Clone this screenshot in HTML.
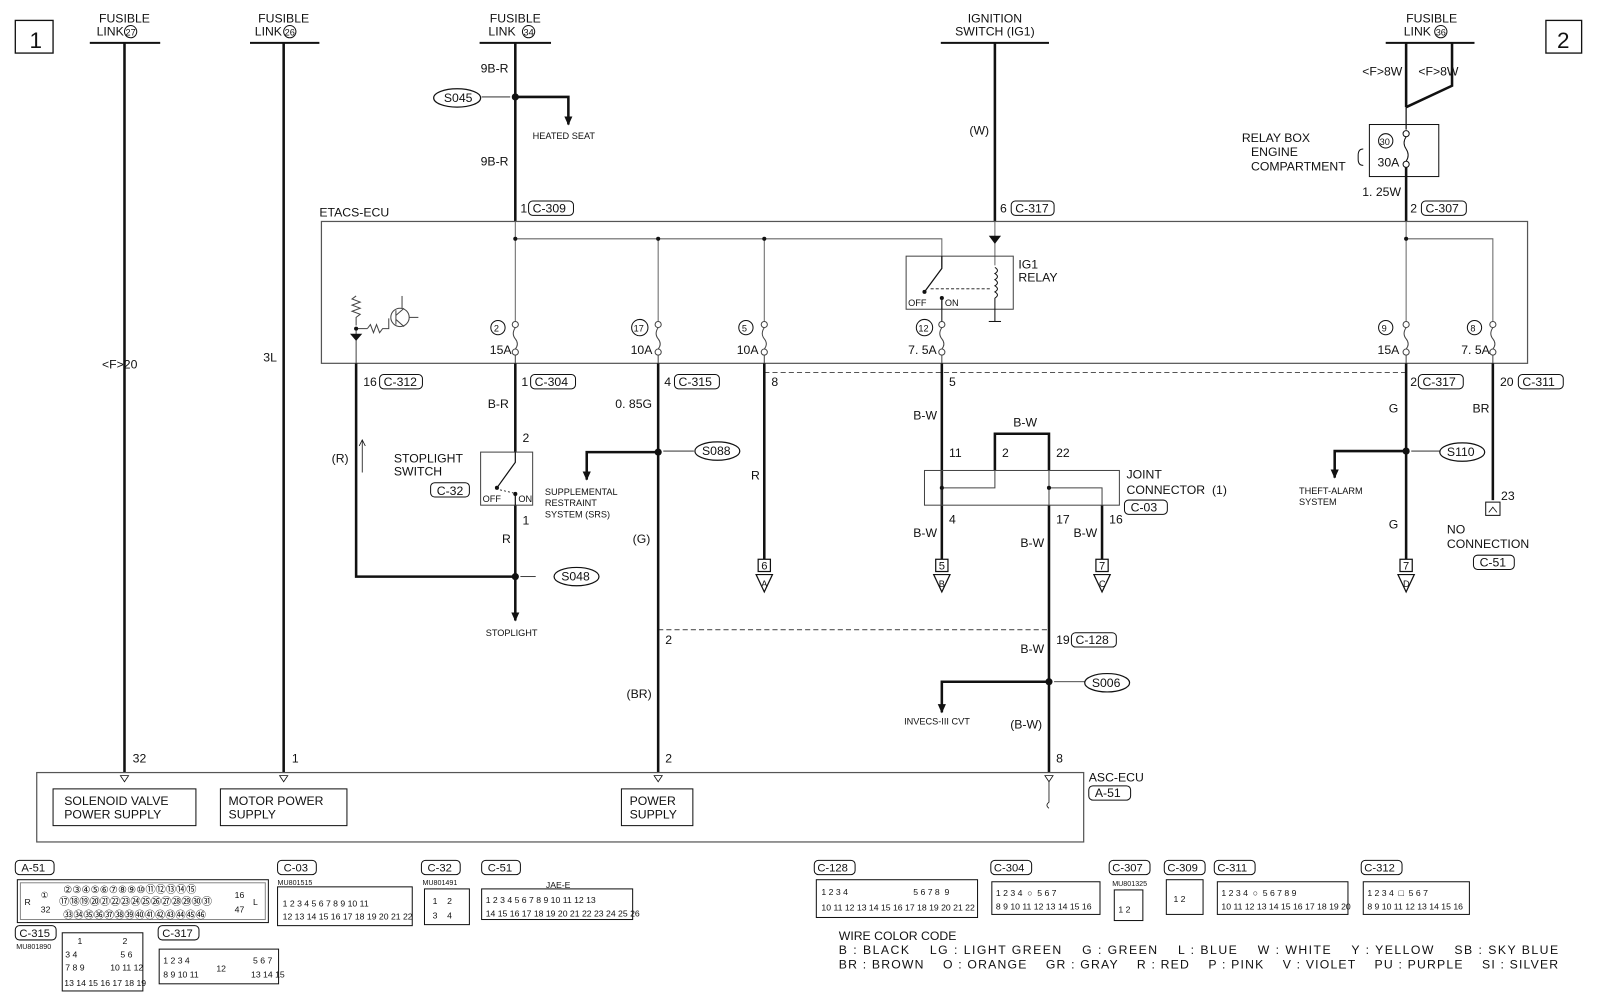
<!DOCTYPE html>
<html><head><meta charset="utf-8"><style>
html,body{margin:0;padding:0;background:#fff}
svg{display:block}
text{font-family:"Liberation Sans",sans-serif;fill:#111;white-space:pre}
.s{font-size:12px}
.m{font-size:11px}
.t{font-size:9px}
.n{font-family:"Liberation Sans Narrow","Liberation Sans",sans-serif;font-size:12px}
</style></head><body>
<svg width="1600" height="993" viewBox="0 0 1568 973" preserveAspectRatio="none" xmlns="http://www.w3.org/2000/svg">
<defs>
<marker id="ar" markerWidth="10" markerHeight="10" refX="8" refY="4" orient="auto" markerUnits="userSpaceOnUse"><path d="M0,0 L9,4 L0,8 z" fill="#111"/></marker>
</defs>
<g fill="none" stroke="#111">
<rect x="15" y="20" width="37" height="32" stroke-width="1.3"/>
<rect x="1515" y="20" width="35" height="32" stroke-width="1.3"/>
<line x1="88" y1="42" x2="157" y2="42" stroke-width="2"/>
<line x1="245" y1="42" x2="313" y2="42" stroke-width="2"/>
<line x1="470" y1="42" x2="540" y2="42" stroke-width="2"/>
<line x1="922" y1="42" x2="1028" y2="42" stroke-width="2"/>
<line x1="1358" y1="42" x2="1445" y2="42" stroke-width="2"/>
<line x1="122" y1="42" x2="122" y2="757" stroke-width="2.5"/>
<line x1="278" y1="42" x2="278" y2="757" stroke-width="2.5"/>
<line x1="505" y1="42" x2="505" y2="217" stroke-width="2.5"/>
<polyline points="505,95 557,95 557,122" stroke-width="2.5" marker-end="url(#ar)"/>
<line x1="472" y1="95" x2="500" y2="95" stroke-width="0.8"/>
<line x1="975" y1="42" x2="975" y2="217" stroke-width="2.5"/>
<line x1="1378" y1="42" x2="1378" y2="105" stroke-width="2.5"/>
<polyline points="1423,42 1423,84 1378,105" stroke-width="2.5"/>
<rect x="1342" y="122" width="68" height="51" stroke-width="1"/>
<line x1="1378" y1="105" x2="1378" y2="127" stroke-width="1.2"/>
<circle cx="1378" cy="131" r="3" stroke-width="1"/>
<path d="M1378,134 q-4,6 0,12 q4,6 0,12" stroke-width="1"/>
<circle cx="1378" cy="161" r="3" stroke-width="1"/>
<line x1="1378" y1="164" x2="1378" y2="217" stroke-width="2.5"/>
<path d="M1336,146 q-5,0 -5,6 v4 q0,6 5,6" stroke-width="1"/>
<rect x="315" y="217" width="1182" height="139" stroke-width="1.2" stroke="#555"/>
<g stroke="#666" stroke-width="1">
<polyline points="505,217 505,315"/>
<polyline points="505,234 923,234 923,262"/>
<polyline points="645,234 645,315"/>
<polyline points="749,234 749,315"/>
<polyline points="1378,217 1378,315"/>
<polyline points="1378,234 1463,234 1463,315"/>
<line x1="975" y1="217" x2="975" y2="260"/>
</g>
<g stroke="#444" stroke-width="1">
<circle cx="505" cy="318" r="3"/><path d="M505,321 q-4,6 0,11 q4,5 0,10"/><circle cx="505" cy="345" r="3"/><line x1="505" y1="348" x2="505" y2="356"/>
<circle cx="645" cy="318" r="3"/><path d="M645,321 q-4,6 0,11 q4,5 0,10"/><circle cx="645" cy="345" r="3"/><line x1="645" y1="348" x2="645" y2="356"/>
<circle cx="749" cy="318" r="3"/><path d="M749,321 q-4,6 0,11 q4,5 0,10"/><circle cx="749" cy="345" r="3"/><line x1="749" y1="348" x2="749" y2="356"/>
<circle cx="923" cy="318" r="3"/><path d="M923,321 q-4,6 0,11 q4,5 0,10"/><circle cx="923" cy="345" r="3"/><line x1="923" y1="348" x2="923" y2="356"/>
<circle cx="1378" cy="318" r="3"/><path d="M1378,321 q-4,6 0,11 q4,5 0,10"/><circle cx="1378" cy="345" r="3"/><line x1="1378" y1="348" x2="1378" y2="356"/>
<circle cx="1463" cy="318" r="3"/><path d="M1463,321 q-4,6 0,11 q4,5 0,10"/><circle cx="1463" cy="345" r="3"/><line x1="1463" y1="348" x2="1463" y2="356"/>
</g>
<rect x="888" y="251" width="105" height="52" stroke-width="1" stroke="#444"/>
<polyline points="923,251 923,263 906,286" stroke-width="1.2"/>
<line x1="923" y1="292" x2="923" y2="303" stroke-width="1.2"/>
<line x1="912" y1="283" x2="972" y2="283" stroke-dasharray="3,2" stroke-width="0.8"/>
<path d="M975,262 q5,3 0,6 q5,3 0,6 q5,3 0,6 q5,3 0,6 q5,3 0,6" stroke-width="1"/>
<line x1="975" y1="292" x2="975" y2="315" stroke-width="1"/>
<line x1="969" y1="315" x2="981" y2="315" stroke-width="1"/>
<line x1="923" y1="303" x2="923" y2="315" stroke-width="1"/>
<g stroke="#444" stroke-width="1">
<path d="M349,290 l-4,3 8,3 -8,3 8,3 -8,3 8,3 -4,3 v8"/>
<line x1="349" y1="322" x2="349" y2="356"/>
<line x1="349" y1="322" x2="360" y2="322"/>
<path d="M360,322 l3,-4 3,8 3,-8 3,8 3,-4 h6 v-10"/>
<circle cx="392" cy="311" r="9"/>
<line x1="388" y1="304" x2="388" y2="318"/>
<line x1="388" y1="309" x2="396" y2="302"/>
<line x1="388" y1="313" x2="396" y2="320"/>
<line x1="394" y1="302" x2="394" y2="290"/>
<line x1="401" y1="311" x2="410" y2="311"/>
</g>
<line x1="749" y1="365" x2="1378" y2="365" stroke-dasharray="5,3" stroke="#555" stroke-width="1"/>
<line x1="645" y1="617" x2="1028" y2="617" stroke-dasharray="5,3" stroke="#555" stroke-width="1"/>
<g stroke-width="2.5">
<polyline points="349,356 349,565 505,565"/>
<line x1="505" y1="356" x2="505" y2="443"/>
<polyline points="505,495 505,608" marker-end="url(#ar)"/>
<line x1="645" y1="356" x2="645" y2="757"/>
<polyline points="645,443 575,443 575,470" marker-end="url(#ar)"/>
<line x1="749" y1="356" x2="749" y2="548"/>
<line x1="923" y1="356" x2="923" y2="548"/>
<polyline points="975,461 975,425 1028,425 1028,461"/>
<line x1="1028" y1="495" x2="1028" y2="757"/>
<line x1="1080" y1="495" x2="1080" y2="548"/>
<polyline points="1028,668 923,668 923,698" marker-end="url(#ar)"/>
<line x1="1378" y1="356" x2="1378" y2="548"/>
<polyline points="1378,442 1308,442 1308,468" marker-end="url(#ar)"/>
<line x1="1463" y1="356" x2="1463" y2="490"/>
</g>
<line x1="355" y1="463" x2="355" y2="432" stroke-width="0.8"/>
<path d="M352,437 l3,-6 3,6" stroke-width="0.8"/>
<rect x="471" y="443" width="51" height="52" stroke-width="1" stroke="#444"/>
<polyline points="505,443 505,453 487,478" stroke-width="1.2"/>
<line x1="505" y1="484" x2="505" y2="495" stroke-width="1.2"/>
<line x1="490" y1="480" x2="503" y2="483" stroke-dasharray="2,2" stroke-width="0.8"/>
<rect x="906" y="461" width="191" height="34" stroke-width="1" stroke="#444"/>
<g stroke-width="1" stroke="#444">
<polyline points="923,461 923,495"/><polyline points="923,478 975,478 975,461"/>
<polyline points="1028,461 1028,495"/><polyline points="1028,478 1080,478 1080,495"/>
</g>
<line x1="525" y1="565" x2="510" y2="565" stroke-width="0.8"/>
<line x1="680" y1="442" x2="650" y2="442" stroke-width="0.8"/>
<line x1="1063" y1="668" x2="1033" y2="668" stroke-width="0.8"/>
<line x1="1411" y1="442" x2="1383" y2="442" stroke-width="0.8"/>
<rect x="743" y="548" width="12" height="12" stroke-width="1.2"/>
<path d="M741,563 h16 l-8,17 z" stroke-width="1.2"/>
<rect x="917" y="548" width="12" height="12" stroke-width="1.2"/>
<path d="M915,563 h16 l-8,17 z" stroke-width="1.2"/>
<rect x="1074" y="548" width="12" height="12" stroke-width="1.2"/>
<path d="M1072,563 h16 l-8,17 z" stroke-width="1.2"/>
<rect x="1372" y="548" width="12" height="12" stroke-width="1.2"/>
<path d="M1370,563 h16 l-8,17 z" stroke-width="1.2"/>
<rect x="1456" y="492" width="14" height="13" stroke-width="1"/>
<path d="M1459,502 l4,-5 4,5" stroke-width="0.8"/>
<rect x="36" y="757" width="1026" height="68" stroke-width="1.2" stroke="#555"/>
<rect x="52" y="773" width="140" height="36" stroke-width="1"/>
<rect x="216" y="773" width="124" height="36" stroke-width="1"/>
<rect x="609" y="773" width="70" height="36" stroke-width="1"/>
<path d="M118,760 h8 l-4,6 z M274,760 h8 l-4,6 z M641,760 h8 l-4,6 z M1024,760 h8 l-4,6 z" stroke-width="0.8"/>
<path d="M1028,766 v20 q-4,3 0,6" stroke-width="0.8"/>
<ellipse cx="448" cy="96" rx="23" ry="9" stroke-width="1.2"/>
<ellipse cx="565" cy="565" rx="22" ry="9" stroke-width="1.2"/>
<ellipse cx="703" cy="442" rx="22" ry="9" stroke-width="1.2"/>
<ellipse cx="1085" cy="669" rx="22" ry="9" stroke-width="1.2"/>
<ellipse cx="1433" cy="443" rx="22" ry="9" stroke-width="1.2"/>
<g stroke-width="1">
<circle cx="128" cy="31" r="6"/><circle cx="284" cy="31" r="6"/><circle cx="518" cy="31" r="6"/><circle cx="1412" cy="31" r="6"/>
<circle cx="1358" cy="138" r="7"/>
<circle cx="488" cy="321" r="7"/><circle cx="627" cy="321" r="8"/><circle cx="731" cy="321" r="7"/><circle cx="906" cy="321" r="8"/><circle cx="1358" cy="321" r="7"/><circle cx="1445" cy="321" r="7"/>
</g>
<g stroke-width="1">
<rect x="518" y="197" width="44" height="14" rx="4"/>
<rect x="991" y="197" width="42" height="14" rx="4"/>
<rect x="1393" y="197" width="44" height="14" rx="4"/>
<rect x="372" y="367" width="42" height="14" rx="4"/>
<rect x="520" y="367" width="44" height="14" rx="4"/>
<rect x="661" y="367" width="44" height="14" rx="4"/>
<rect x="1390" y="367" width="44" height="14" rx="4"/>
<rect x="1488" y="367" width="44" height="14" rx="4"/>
<rect x="422" y="473" width="38" height="14" rx="4"/>
<rect x="1102" y="490" width="42" height="14" rx="4"/>
<rect x="1050" y="620" width="44" height="14" rx="4"/>
<rect x="1444" y="544" width="40" height="14" rx="4"/>
<rect x="1067" y="770" width="41" height="14" rx="4"/>
</g>
<g stroke-width="1">
<rect x="15" y="843" width="38" height="14" rx="4"/><rect x="17" y="862" width="246" height="42"/><rect x="20" y="865" width="240" height="36" stroke="#888"/>
<rect x="272" y="843" width="38" height="14" rx="4"/><rect x="272" y="869" width="132" height="38"/>
<rect x="413" y="843" width="38" height="14" rx="4"/><rect x="416" y="871" width="44" height="35"/>
<rect x="472" y="843" width="38" height="14" rx="4"/><rect x="472" y="871" width="148" height="30"/>
<rect x="15" y="907" width="40" height="14" rx="4"/><rect x="61" y="914" width="79" height="57"/>
<rect x="155" y="907" width="40" height="14" rx="4"/><rect x="156" y="930" width="117" height="34"/>
<rect x="798" y="843" width="40" height="14" rx="4"/><rect x="800" y="862" width="158" height="37"/>
<rect x="971" y="843" width="40" height="14" rx="4"/><rect x="972" y="864" width="106" height="32"/>
<rect x="1087" y="843" width="40" height="14" rx="4"/><rect x="1092" y="872" width="28" height="30"/>
<rect x="1141" y="843" width="40" height="14" rx="4"/><rect x="1143" y="862" width="36" height="34"/>
<rect x="1190" y="843" width="40" height="14" rx="4"/><rect x="1193" y="864" width="128" height="32"/>
<rect x="1334" y="843" width="40" height="14" rx="4"/><rect x="1336" y="864" width="104" height="32"/>
</g>
</g>
<g fill="#111">
<circle cx="505" cy="95" r="3.5"/><circle cx="505" cy="565" r="3.5"/><circle cx="645" cy="443" r="3.5"/><circle cx="1028" cy="668" r="3.5"/><circle cx="1378" cy="442" r="3.5"/>
<circle cx="505" cy="234" r="2"/><circle cx="645" cy="234" r="2"/><circle cx="749" cy="234" r="2"/><circle cx="1378" cy="234" r="2"/>
<circle cx="923" cy="478" r="2"/><circle cx="1028" cy="478" r="2"/><circle cx="349" cy="322" r="2"/>
<path d="M969,231 h12 l-6,8 z"/><path d="M343,327 h12 l-6,7 z"/>
<circle cx="906" cy="286" r="2"/><circle cx="923" cy="292" r="2"/><circle cx="487" cy="478" r="2"/><circle cx="505" cy="484" r="2"/>
</g>
<text class="s" x="35" y="47" style="font-size:22px" text-anchor="middle">1</text>
<text class="s" x="1532" y="47" style="font-size:22px" text-anchor="middle">2</text>
<g class="s" text-anchor="middle">
<text x="122" y="22">FUSIBLE</text><text x="108" y="35">LINK</text><text x="128" y="35" class="t">27</text>
<text x="278" y="22">FUSIBLE</text><text x="263" y="35">LINK</text><text x="284" y="35" class="t">26</text>
<text x="505" y="22">FUSIBLE</text><text x="492" y="35">LINK</text><text x="518" y="35" class="t">34</text>
<text x="975" y="22">IGNITION</text><text x="975" y="35">SWITCH (IG1)</text>
<text x="1403" y="22">FUSIBLE</text><text x="1389" y="35">LINK</text><text x="1412" y="35" class="t">36</text>
</g>
<g class="n">
<text x="100" y="361">&lt;F&gt;20</text>
<text x="258" y="354">3L</text>
<text x="130" y="747">32</text><text x="286" y="747">1</text><text x="652" y="747">2</text><text x="1035" y="747">8</text>
<text x="471" y="71">9B-R</text><text x="471" y="162">9B-R</text>
<text x="510" y="208">1</text><text x="522" y="208">C-309</text>
<text x="950" y="132">(W)</text>
<text x="980" y="208">6</text><text x="995" y="208">C-317</text>
<text x="1335" y="74">&lt;F&gt;8W</text><text x="1390" y="74">&lt;F&gt;8W</text>
<text x="1352" y="142" class="t">30</text><text x="1350" y="163">30A</text>
<text x="1335" y="192">1. 25W</text>
<text x="1382" y="208">2</text><text x="1397" y="208">C-307</text>
<text x="435" y="100">S045</text><text x="550" y="569">S048</text><text x="688" y="446">S088</text><text x="1070" y="673">S006</text><text x="1418" y="447">S110</text>
<text x="484" y="325" class="t">2</text><text x="621" y="325" class="t">17</text><text x="727" y="325" class="t">5</text><text x="900" y="325" class="t">12</text><text x="1354" y="325" class="t">9</text><text x="1441" y="325" class="t">8</text>
<text x="480" y="347">15A</text><text x="618" y="347">10A</text><text x="722" y="347">10A</text><text x="890" y="347">7. 5A</text><text x="1350" y="347">15A</text><text x="1432" y="347">7. 5A</text>
<text x="356" y="378">16</text><text x="376" y="378">C-312</text>
<text x="511" y="378">1</text><text x="524" y="378">C-304</text>
<text x="651" y="378">4</text><text x="665" y="378">C-315</text>
<text x="756" y="378">8</text><text x="930" y="378">5</text>
<text x="1382" y="378">2</text><text x="1394" y="378">C-317</text>
<text x="1470" y="378">20</text><text x="1492" y="378">C-311</text>
<text x="478" y="400">B-R</text><text x="603" y="400">0. 85G</text>
<text x="895" y="411">B-W</text><text x="993" y="418">B-W</text>
<text x="1361" y="404">G</text><text x="1443" y="404">BR</text>
<text x="325" y="453">(R)</text>
<text x="512" y="433">2</text><text x="512" y="514">1</text>
<text x="428" y="485">C-32</text>
<text x="492" y="532">R</text><text x="736" y="470">R</text><text x="620" y="532">(G)</text>
<text x="930" y="448">11</text><text x="982" y="448">2</text><text x="1035" y="448">22</text>
<text x="930" y="513">4</text><text x="1035" y="513">17</text><text x="1087" y="513">16</text>
<text x="1108" y="501">C-03</text>
<text x="895" y="526">B-W</text><text x="1000" y="536">B-W</text><text x="1052" y="526">B-W</text>
<text x="1361" y="518">G</text><text x="1471" y="490">23</text>
<text x="1450" y="555">C-51</text>
<text x="746" y="558" class="m">6</text><text x="920" y="558" class="m">5</text><text x="1077" y="558" class="m">7</text><text x="1375" y="558" class="m">7</text>
<text x="746" y="575" class="t">A</text><text x="920" y="575" class="t">B</text><text x="1077" y="575" class="t">C</text><text x="1375" y="575" class="t">D</text>
<text x="652" y="631">2</text><text x="1035" y="631">19</text><text x="1054" y="631">C-128</text>
<text x="1000" y="640">B-W</text>
<text x="614" y="684">(BR)</text><text x="990" y="714">(B-W)</text>
<text x="1073" y="781">A-51</text>
<text x="890" y="300" class="t">OFF</text><text x="926" y="300" class="t">ON</text>
<text x="473" y="492" class="t">OFF</text><text x="508" y="492" class="t">ON</text>
</g>
<g class="s">
<text x="313" y="212">ETACS-ECU</text>
<text x="1217" y="139">RELAY BOX</text><text x="1226" y="153">ENGINE</text><text x="1226" y="167">COMPARTMENT</text>
<text x="998" y="263">IG1</text><text x="998" y="276">RELAY</text>
<text x="386" y="453">STOPLIGHT</text><text x="386" y="466">SWITCH</text>
<text x="1104" y="469">JOINT</text><text x="1104" y="484">CONNECTOR  (1)</text>
<text x="1418" y="523">NO</text><text x="1418" y="537">CONNECTION</text>
<text x="1067" y="766">ASC-ECU</text>
<text x="63" y="789">SOLENOID VALVE</text><text x="63" y="802">POWER SUPPLY</text>
<text x="224" y="789">MOTOR POWER</text><text x="224" y="802">SUPPLY</text>
<text x="617" y="789">POWER</text><text x="617" y="802">SUPPLY</text>
<text x="822" y="921">WIRE COLOR CODE</text>
<text x="822" y="935" textLength="705" lengthAdjust="spacing">B : BLACK    LG : LIGHT GREEN    G : GREEN    L : BLUE    W : WHITE    Y : YELLOW    SB : SKY BLUE</text>
<text x="822" y="949" textLength="705" lengthAdjust="spacing">BR : BROWN    O : ORANGE    GR : GRAY    R : RED    P : PINK    V : VIOLET    PU : PURPLE    SI : SILVER</text>
</g>
<g class="t">
<text x="522" y="136">HEATED SEAT</text>
<text x="534" y="485">SUPPLEMENTAL</text><text x="534" y="496">RESTRAINT</text><text x="534" y="507">SYSTEM (SRS)</text>
<text x="476" y="623">STOPLIGHT</text>
<text x="886" y="710">INVECS-III CVT</text>
<text x="1273" y="484">THEFT-ALARM</text><text x="1273" y="495">SYSTEM</text>
<text x="1497" y="985">HBH15M01AC</text>
<text x="272" y="867" style="font-size:7px">MU801515</text><text x="414" y="867" style="font-size:7px">MU801491</text><text x="16" y="930" style="font-size:7px">MU801890</text><text x="1090" y="868" style="font-size:7px">MU801325</text>
</g>
<g class="n" style="font-size:11px">
<text x="21" y="854">A-51</text><text x="278" y="854">C-03</text><text x="419" y="854">C-32</text><text x="478" y="854">C-51</text>
<text x="19" y="918">C-315</text><text x="159" y="918">C-317</text>
<text x="801" y="854">C-128</text><text x="974" y="854">C-304</text><text x="1090" y="854">C-307</text><text x="1144" y="854">C-309</text><text x="1193" y="854">C-311</text><text x="1337" y="854">C-312</text>
</g>
<g class="t" style="font-size:8.5px">
<text x="62" y="875" style="font-size:10px">②③④⑤⑥⑦⑧⑨⑩⑪⑫⑬⑭⑮</text>
<text x="58" y="887" style="font-size:10px">⑰⑱⑲⑳㉑㉒㉓㉔㉕㉖㉗㉘㉙㉚㉛</text>
<text x="62" y="900" style="font-size:10px">㉝㉞㉟㊱㊲㊳㊴㊵㊶㊷㊸㊹㊺㊻</text>
<text x="24" y="887">R</text><text x="40" y="880">①</text><text x="40" y="894">32</text><text x="230" y="880">16</text><text x="230" y="894">47</text><text x="248" y="887">L</text>
<text x="277" y="888">1 2 3 4 5 6 7 8 9 10 11</text><text x="277" y="901">12 13 14 15 16 17 18 19 20 21 22</text>
<text x="424" y="886">1    2</text><text x="424" y="900">3    4</text>
<text x="535" y="870">JAE-E</text>
<text x="476" y="885">1 2 3 4 5 6 7 8 9 10 11 12 13</text><text x="476" y="898">14 15 16 17 18 19 20 21 22 23 24 25 26</text>
<text x="76" y="925">1</text><text x="120" y="925">2</text><text x="64" y="938">3 4</text><text x="118" y="938">5 6</text><text x="64" y="951">7 8 9</text><text x="108" y="951">10 11 12</text><text x="63" y="966">13 14 15 16 17 18 19</text>
<text x="160" y="944">1 2 3 4</text><text x="248" y="944">5 6 7</text><text x="160" y="958">8 9 10 11</text><text x="212" y="952">12</text><text x="246" y="958">13 14 15</text>
<text x="805" y="877">1 2 3 4</text><text x="895" y="877">5 6 7 8  9</text><text x="805" y="892">10 11 12 13 14 15 16 17 18 19 20 21 22</text>
<text x="976" y="878">1 2 3 4  ○  5 6 7</text><text x="976" y="891">8 9 10 11 12 13 14 15 16</text>
<text x="1096" y="894">1 2</text><text x="1150" y="884">1 2</text>
<text x="1197" y="878">1 2 3 4  ○  5 6 7 8 9</text><text x="1197" y="891">10 11 12 13 14 15 16 17 18 19 20</text>
<text x="1340" y="878">1 2 3 4  □  5 6 7</text><text x="1340" y="891">8 9 10 11 12 13 14 15 16</text>
</g>
</svg>
</body></html>
